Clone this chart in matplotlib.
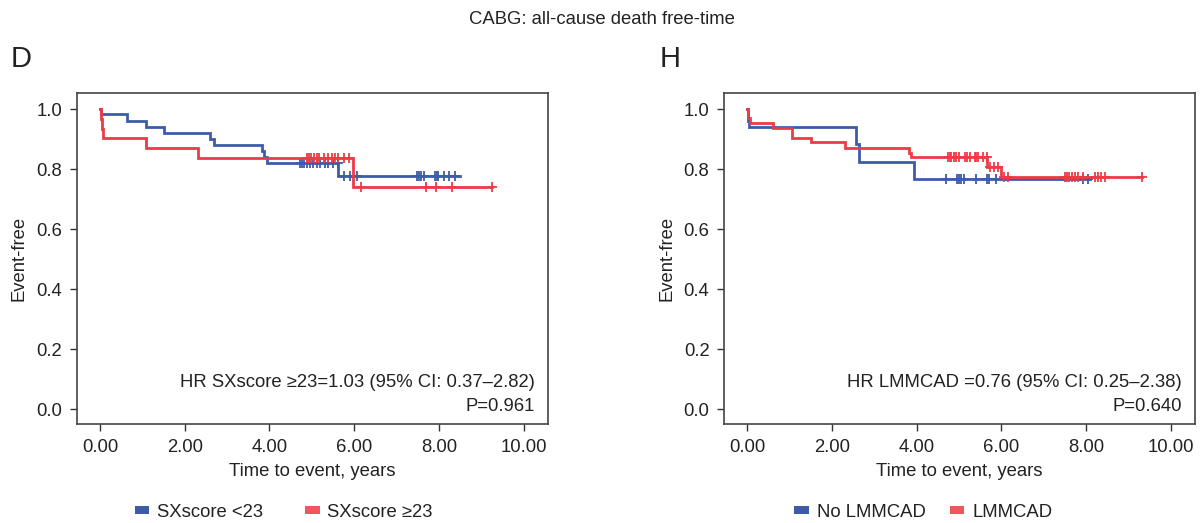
import numpy as np
import matplotlib
matplotlib.use("Agg")
import matplotlib.pyplot as plt
from matplotlib.patches import Patch

plt.rcParams['font.family'] = ['Liberation Sans', 'DejaVu Sans']

BLUE = '#3D5CA8'
RED = '#EE3A46'
RED_PATCH = '#F0565E'
FS = 13.3

# ---------------- Data ----------------
title = "CABG: all-cause death free-time"
x_ticks = [0, 2, 4, 6, 8, 10]
y_ticks = [0.0, 0.2, 0.4, 0.6, 0.8, 1.0]

# Panel D
d_blue_t = [0.0, 0.02, 0.63, 1.08, 1.50, 2.60, 2.68, 3.82, 3.87, 3.94, 5.62]
d_blue_s = [1.0, 0.983, 0.962, 0.942, 0.922, 0.900, 0.881, 0.861, 0.841, 0.820, 0.778]
d_blue_end = 8.49
d_blue_cens = [4.71, 4.76, 4.82, 4.88, 4.96, 5.02, 5.12, 5.20, 5.31, 5.39, 5.51, 5.61,
               5.75, 5.89, 6.07, 7.48, 7.53, 7.58, 7.64, 7.91, 7.95, 7.99, 8.11, 8.23, 8.39]
d_red_t = [0.0, 0.02, 0.05, 0.06, 1.08, 2.32, 5.98]
d_red_s = [1.0, 0.967, 0.933, 0.903, 0.870, 0.837, 0.742]
d_red_end = 9.25
d_red_cens = [4.88, 4.93, 4.98, 5.04, 5.13, 5.18, 5.28, 5.39, 5.47, 5.55, 5.63, 5.75,
              5.87, 6.17, 7.70, 7.94, 8.31, 9.25]

# Panel H
h_blue_t = [0.0, 0.01, 0.03, 2.57, 2.65, 3.93]
h_blue_s = [1.0, 0.96, 0.940, 0.884, 0.825, 0.767]
h_blue_end = 8.09
h_blue_cens = [4.70, 4.96, 5.00, 5.05, 5.12, 5.41, 5.66, 5.71, 5.88, 7.93, 8.05]
h_red_t = [0.0, 0.02, 0.06, 0.605, 1.06, 1.495, 2.31, 3.83, 3.87, 5.66, 5.98]
h_red_s = [1.0, 0.970, 0.953, 0.937, 0.903, 0.889, 0.872, 0.855, 0.840, 0.807, 0.773]
h_red_end = 9.31
h_red_cens = [4.74, 4.78, 4.82, 4.87, 4.94, 5.00, 5.13, 5.19, 5.25, 5.37, 5.41, 5.45,
              5.57, 5.65, 5.72, 5.82, 5.92, 6.06, 6.16, 7.50, 7.55, 7.60, 7.66, 7.73,
              7.81, 7.93, 8.20, 8.28, 8.36, 8.44, 9.31]

panels = [
    dict(letter='D', left=0.0638,
         curves=[(d_blue_t, d_blue_s, d_blue_end, d_blue_cens, BLUE),
                 (d_red_t, d_red_s, d_red_end, d_red_cens, RED)],
         hr="HR SXscore \u226523=1.03 (95% CI: 0.37\u20132.82)", p="P=0.961",
         legend=["SXscore <23", "SXscore \u226523"], leg_x=0.2358, colsp=2.25,
         letter_x=0.009),
    dict(letter='H', left=0.6018,
         curves=[(h_blue_t, h_blue_s, h_blue_end, h_blue_cens, BLUE),
                 (h_red_t, h_red_s, h_red_end, h_red_cens, RED)],
         hr="HR LMMCAD =0.76 (95% CI: 0.25\u20132.38)", p="P=0.640",
         legend=["No LMMCAD", "LMMCAD"], leg_x=0.7675, colsp=1.3,
         letter_x=0.548),
]

fig = plt.figure(figsize=(12.03, 5.23), dpi=100)
fig.text(0.5, 0.962, title, ha='center', va='center', fontsize=13.3, color='#222222')

for pan in panels:
    ax = fig.add_axes([pan['left'], 0.1893, 0.3915, 0.6335])
    for t, s, end, cens, col in pan['curves']:
        tt = list(t) + [end]
        ss = list(s) + [s[-1]]
        ax.step(tt, ss, where='post', color=col, lw=2.0, solid_joinstyle='miter')
        ct = np.array(cens)
        idx = np.searchsorted(np.array(t), ct, side='right') - 1
        cs = np.array(s)[idx]
        ax.plot(ct, cs, linestyle='none', marker='+', color=col, ms=7, mew=1.3)
    ax.set_xlim(-0.55, 10.57)
    ax.set_ylim(-0.049, 1.055)
    ax.set_xticks(x_ticks)
    ax.set_xticklabels(["%.2f" % v for v in x_ticks])
    ax.set_yticks(y_ticks)
    ax.set_yticklabels(["%.1f" % v for v in y_ticks])
    ax.tick_params(labelsize=FS, length=5, width=1, color='#333333', labelcolor='#222222')
    ax.tick_params(axis='x', pad=6)
    ax.tick_params(axis='y', pad=5.5)
    for sp in ax.spines.values():
        sp.set_color('#444444')
        sp.set_linewidth(1.2)
    ax.set_xlabel("Time to event, years", fontsize=FS, color='#222222', labelpad=5)
    ax.set_ylabel("Event-free", fontsize=FS, color='#222222', labelpad=6)
    ax.text(0.972, 0.125, pan['hr'], transform=ax.transAxes, ha='right', va='center',
            fontsize=FS, color='#222222')
    ax.text(0.972, 0.052, pan['p'], transform=ax.transAxes, ha='right', va='center',
            fontsize=FS, color='#222222')
    fig.text(pan['letter_x'], 0.887, pan['letter'], fontsize=21, ha='left', va='center',
             color='#222222')
    handles = [Patch(facecolor=BLUE, edgecolor='none', label=pan['legend'][0]),
               Patch(facecolor=RED_PATCH, edgecolor='none', label=pan['legend'][1])]
    fig.legend(handles=handles, loc='center', bbox_to_anchor=(pan['leg_x'], 0.02),
               ncol=2, frameon=False, fontsize=FS, handlelength=0.8, handleheight=0.3,
               handletextpad=0.42, columnspacing=pan['colsp'], labelcolor='#222222')

fig.savefig("out.png", dpi=100)
